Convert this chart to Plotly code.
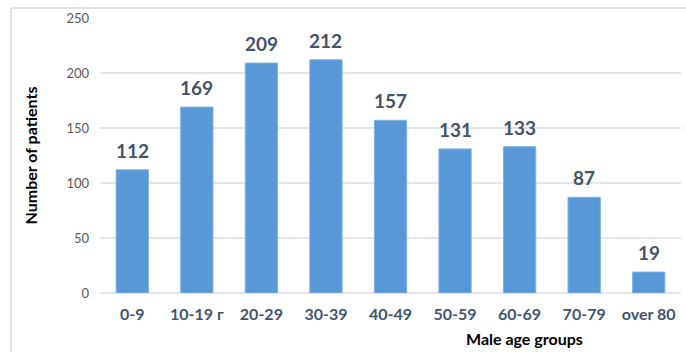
import plotly.graph_objects as go

categories = ["0-9", "10-19 г", "20-29", "30-39", "40-49", "50-59", "60-69", "70-79", "over 80"]
values = [112, 169, 209, 212, 157, 131, 133, 87, 19]
y_ticks = [0, 50, 100, 150, 200, 250]

FONT = "Lato, 'Open Sans', sans-serif"
L, R, T, B = 100, 5, 18, 59
W, H = 686, 352
pw, ph = W - L - R, H - T - B

def px_x(px):
    return (px - L) / pw

def px_y(py):
    return (H - B - py) / ph

fig = go.Figure(go.Bar(
    x=categories, y=values,
    marker=dict(color="#5898d7", line=dict(color="#7fb2e3", width=1)),
    cliponaxis=False,
))

label_anns = [dict(x=c, y=v, text=str(v), xref="x", yref="y", showarrow=False,
                   xanchor="center", yanchor="bottom", yshift=6,
                   font=dict(family=FONT, size=19, color="#44546a", weight="bold"))
              for c, v in zip(categories, values)]

fig.update_layout(
    width=W, height=H, margin=dict(l=L, r=R, t=T, b=B),
    plot_bgcolor="white", paper_bgcolor="white",
    bargap=0.5, showlegend=False,
    font=dict(family=FONT),
    xaxis=dict(tickfont=dict(family=FONT, size=16, color="#44546a", weight="bold"),
               showline=False, ticks="", showgrid=False, ticklabelstandoff=10),
    yaxis=dict(range=[0, 250], tickvals=y_ticks, showgrid=True, gridcolor="#e3e6ed", gridwidth=2,
               zeroline=True, zerolinecolor="#e3e6ed", zerolinewidth=2,
               tickfont=dict(family=FONT, size=13, color="#595959"), ticklabelstandoff=10,
               title=dict(text="Number of patients", font=dict(family=FONT, size=16, color="black", weight="bold"),
                          standoff=24)),
    annotations=label_anns + [dict(text="Male age groups", xref="paper", yref="paper", x=px_x(524), y=px_y(338),
                      xanchor="center", yanchor="middle", showarrow=False,
                      font=dict(family=FONT, size=16, color="black", weight="bold"))],
    shapes=[
        dict(type="line", xref="paper", yref="paper", x0=px_x(11), x1=px_x(686), y0=px_y(8), y1=px_y(8),
             line=dict(color="#dde1e8", width=2)),
        dict(type="line", xref="paper", yref="paper", x0=px_x(11), x1=px_x(11), y0=px_y(8), y1=px_y(352),
             line=dict(color="#dde1e8", width=2)),
    ],
)

fig.write_html("out.html")
